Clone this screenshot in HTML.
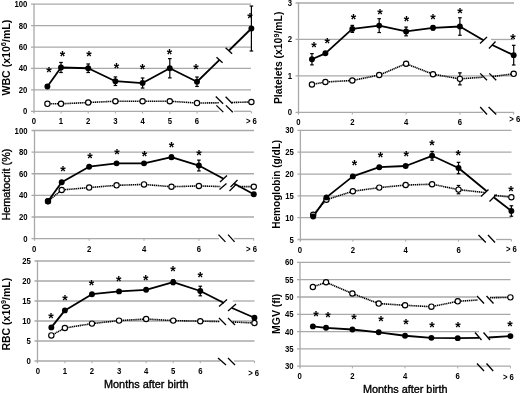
<!DOCTYPE html>
<html><head><meta charset="utf-8"><style>
html,body{margin:0;padding:0;background:#fff;width:520px;height:393px;overflow:hidden;font-family:"Liberation Sans", sans-serif;}
svg{display:block;filter:grayscale(100%);}
</style></head><body>
<svg width="520" height="393" viewBox="0 0 520 393" font-family='"Liberation Sans", sans-serif'>
<rect width="520" height="393" fill="#fff"/>
<g>
<line x1="31" y1="89.88" x2="251" y2="89.88" stroke="#a9a9a9" stroke-width="1.3" />
<line x1="31" y1="68.46" x2="251" y2="68.46" stroke="#a9a9a9" stroke-width="1.3" />
<line x1="31" y1="47.04" x2="251" y2="47.04" stroke="#a9a9a9" stroke-width="1.3" />
<line x1="31" y1="25.62" x2="251" y2="25.62" stroke="#a9a9a9" stroke-width="1.3" />
<line x1="31" y1="4.2" x2="251" y2="4.2" stroke="#a9a9a9" stroke-width="1.3" />
<line x1="31" y1="111.3" x2="219" y2="111.3" stroke="#a9a9a9" stroke-width="1.3" />
<line x1="234" y1="111.3" x2="251" y2="111.3" stroke="#a9a9a9" stroke-width="1.3" />
<line x1="34" y1="3.7" x2="34" y2="113.5" stroke="#a9a9a9" stroke-width="1.3" />
<line x1="61" y1="111.3" x2="61" y2="113.5" stroke="#a9a9a9" stroke-width="1" />
<line x1="88.2" y1="111.3" x2="88.2" y2="113.5" stroke="#a9a9a9" stroke-width="1" />
<line x1="115.4" y1="111.3" x2="115.4" y2="113.5" stroke="#a9a9a9" stroke-width="1" />
<line x1="142.6" y1="111.3" x2="142.6" y2="113.5" stroke="#a9a9a9" stroke-width="1" />
<line x1="169.8" y1="111.3" x2="169.8" y2="113.5" stroke="#a9a9a9" stroke-width="1" />
<line x1="197" y1="111.3" x2="197" y2="113.5" stroke="#a9a9a9" stroke-width="1" />
<line x1="251.4" y1="111.3" x2="251.4" y2="113.5" stroke="#a9a9a9" stroke-width="1" />
<text transform="translate(27.3,114.3) scale(0.9,1)" font-size="8.6" font-weight="bold" text-anchor="end" >0</text>
<text transform="translate(27.3,92.88) scale(0.9,1)" font-size="8.6" font-weight="bold" text-anchor="end" >20</text>
<text transform="translate(27.3,71.46) scale(0.9,1)" font-size="8.6" font-weight="bold" text-anchor="end" >40</text>
<text transform="translate(27.3,50.04) scale(0.9,1)" font-size="8.6" font-weight="bold" text-anchor="end" >60</text>
<text transform="translate(27.3,28.62) scale(0.9,1)" font-size="8.6" font-weight="bold" text-anchor="end" >80</text>
<text transform="translate(27.3,7.2) scale(0.9,1)" font-size="8.6" font-weight="bold" text-anchor="end" >100</text>
<text transform="translate(33.8,123.8) scale(0.9,1)" font-size="8.6" font-weight="bold" text-anchor="middle" >0</text>
<text transform="translate(61,123.8) scale(0.9,1)" font-size="8.6" font-weight="bold" text-anchor="middle" >1</text>
<text transform="translate(88.2,123.8) scale(0.9,1)" font-size="8.6" font-weight="bold" text-anchor="middle" >2</text>
<text transform="translate(115.4,123.8) scale(0.9,1)" font-size="8.6" font-weight="bold" text-anchor="middle" >3</text>
<text transform="translate(142.6,123.8) scale(0.9,1)" font-size="8.6" font-weight="bold" text-anchor="middle" >4</text>
<text transform="translate(169.8,123.8) scale(0.9,1)" font-size="8.6" font-weight="bold" text-anchor="middle" >5</text>
<text transform="translate(197,123.8) scale(0.9,1)" font-size="8.6" font-weight="bold" text-anchor="middle" >6</text>
<text transform="translate(251.4,123.8) scale(0.9,1)" font-size="8.6" font-weight="bold" text-anchor="middle" >&gt; 6</text>
<polyline points="47.4,103.8 61,103.8 88.2,102.52 115.4,101.23 142.6,101.23 169.8,101.23 197,103.05 219,102.8" fill="none" stroke="#000" stroke-width="1.6" stroke-dasharray="1.25 0.65"/>
<polyline points="232,102.5 251.4,101.98" fill="none" stroke="#000" stroke-width="1.6" stroke-dasharray="1.25 0.65"/>
<polyline points="47.4,86.45 61,67.5 88.2,68.25 115.4,81.2 142.6,83.03 169.8,68.25 197,81.74 219.5,59.8" fill="none" stroke="#000" stroke-width="1.8" stroke-linejoin="round"/>
<polyline points="229,50.5 251.4,28.51" fill="none" stroke="#000" stroke-width="1.8" stroke-linejoin="round"/>
<line x1="216.5" y1="57.3" x2="222.6" y2="62.8" stroke="#000" stroke-width="1.3" />
<line x1="225.6" y1="47.7" x2="232.1" y2="53.8" stroke="#000" stroke-width="1.3" />
<line x1="215.8" y1="96.5" x2="223.1" y2="103.8" stroke="#000" stroke-width="1.3" />
<line x1="225.6" y1="96.7" x2="232.3" y2="103.5" stroke="#000" stroke-width="1.3" />
<line x1="216.4" y1="105.4" x2="223.3" y2="112.1" stroke="#000" stroke-width="1.3" />
<line x1="225.9" y1="105.4" x2="232.8" y2="112.3" stroke="#000" stroke-width="1.3" />
<line x1="61" y1="62.46" x2="61" y2="72.53" stroke="#000" stroke-width="1.2" />
<line x1="59.2" y1="62.46" x2="62.8" y2="62.46" stroke="#000" stroke-width="1.2" />
<line x1="59.2" y1="72.53" x2="62.8" y2="72.53" stroke="#000" stroke-width="1.2" />
<line x1="88.2" y1="63.96" x2="88.2" y2="72.53" stroke="#000" stroke-width="1.2" />
<line x1="86.4" y1="63.96" x2="90" y2="63.96" stroke="#000" stroke-width="1.2" />
<line x1="86.4" y1="72.53" x2="90" y2="72.53" stroke="#000" stroke-width="1.2" />
<line x1="115.4" y1="76.92" x2="115.4" y2="85.49" stroke="#000" stroke-width="1.2" />
<line x1="113.6" y1="76.92" x2="117.2" y2="76.92" stroke="#000" stroke-width="1.2" />
<line x1="113.6" y1="85.49" x2="117.2" y2="85.49" stroke="#000" stroke-width="1.2" />
<line x1="142.6" y1="77.99" x2="142.6" y2="88.06" stroke="#000" stroke-width="1.2" />
<line x1="140.8" y1="77.99" x2="144.4" y2="77.99" stroke="#000" stroke-width="1.2" />
<line x1="140.8" y1="88.06" x2="144.4" y2="88.06" stroke="#000" stroke-width="1.2" />
<line x1="169.8" y1="58.61" x2="169.8" y2="77.88" stroke="#000" stroke-width="1.2" />
<line x1="168" y1="58.61" x2="171.6" y2="58.61" stroke="#000" stroke-width="1.2" />
<line x1="168" y1="77.88" x2="171.6" y2="77.88" stroke="#000" stroke-width="1.2" />
<line x1="197" y1="77.03" x2="197" y2="86.45" stroke="#000" stroke-width="1.2" />
<line x1="195.2" y1="77.03" x2="198.8" y2="77.03" stroke="#000" stroke-width="1.2" />
<line x1="195.2" y1="86.45" x2="198.8" y2="86.45" stroke="#000" stroke-width="1.2" />
<line x1="251.4" y1="6.02" x2="251.4" y2="51" stroke="#000" stroke-width="1.2" />
<line x1="249.6" y1="6.02" x2="253.2" y2="6.02" stroke="#000" stroke-width="1.2" />
<line x1="249.6" y1="51" x2="253.2" y2="51" stroke="#000" stroke-width="1.2" />
<circle cx="47.4" cy="103.8" r="2.65" fill="#fff" stroke="#000" stroke-width="1.15"/>
<circle cx="61" cy="103.8" r="2.65" fill="#fff" stroke="#000" stroke-width="1.15"/>
<circle cx="88.2" cy="102.52" r="2.65" fill="#fff" stroke="#000" stroke-width="1.15"/>
<circle cx="115.4" cy="101.23" r="2.65" fill="#fff" stroke="#000" stroke-width="1.15"/>
<circle cx="142.6" cy="101.23" r="2.65" fill="#fff" stroke="#000" stroke-width="1.15"/>
<circle cx="169.8" cy="101.23" r="2.65" fill="#fff" stroke="#000" stroke-width="1.15"/>
<circle cx="197" cy="103.05" r="2.65" fill="#fff" stroke="#000" stroke-width="1.15"/>
<circle cx="251.4" cy="101.98" r="2.65" fill="#fff" stroke="#000" stroke-width="1.15"/>
<circle cx="47.4" cy="86.45" r="2.95" fill="#000"/>
<circle cx="61" cy="67.5" r="2.95" fill="#000"/>
<circle cx="88.2" cy="68.25" r="2.95" fill="#000"/>
<circle cx="115.4" cy="81.2" r="2.95" fill="#000"/>
<circle cx="142.6" cy="83.03" r="2.95" fill="#000"/>
<circle cx="169.8" cy="68.25" r="2.95" fill="#000"/>
<circle cx="197" cy="81.74" r="2.95" fill="#000"/>
<circle cx="251.4" cy="28.51" r="2.95" fill="#000"/>
<text x="49" y="77.44" font-size="14" font-weight="bold" text-anchor="middle">*</text>
<text x="62.4" y="60.84" font-size="14" font-weight="bold" text-anchor="middle">*</text>
<text x="89" y="61.44" font-size="14" font-weight="bold" text-anchor="middle">*</text>
<text x="116.4" y="72.84" font-size="14" font-weight="bold" text-anchor="middle">*</text>
<text x="142.4" y="74.04" font-size="14" font-weight="bold" text-anchor="middle">*</text>
<text x="169.6" y="58.94" font-size="14" font-weight="bold" text-anchor="middle">*</text>
<text x="195.9" y="73.64" font-size="14" font-weight="bold" text-anchor="middle">*</text>
<text x="250" y="22.74" font-size="14" font-weight="bold" text-anchor="middle">*</text>
<text transform="translate(9.7,95.5) rotate(-90)" font-size="10.5" font-weight="bold" textLength="75.8" lengthAdjust="spacingAndGlyphs">WBC (x10<tspan font-size="70%" dy="-3.5">6</tspan><tspan dy="3.5">/mL)</tspan></text>
</g>
<g>
<line x1="295.5" y1="75.93" x2="514" y2="75.93" stroke="#a9a9a9" stroke-width="1.3" />
<line x1="295.5" y1="39.47" x2="483" y2="39.47" stroke="#a9a9a9" stroke-width="1.3" />
<line x1="491" y1="39.47" x2="514" y2="39.47" stroke="#a9a9a9" stroke-width="1.3" />
<line x1="295.5" y1="3" x2="514" y2="3" stroke="#a9a9a9" stroke-width="1.3" />
<line x1="295.5" y1="112.4" x2="483" y2="112.4" stroke="#a9a9a9" stroke-width="1.3" />
<line x1="494" y1="112.4" x2="514" y2="112.4" stroke="#a9a9a9" stroke-width="1.3" />
<line x1="298.5" y1="2.5" x2="298.5" y2="114.6" stroke="#a9a9a9" stroke-width="1.3" />
<line x1="352.3" y1="112.4" x2="352.3" y2="114.6" stroke="#a9a9a9" stroke-width="1" />
<line x1="406.1" y1="112.4" x2="406.1" y2="114.6" stroke="#a9a9a9" stroke-width="1" />
<line x1="459.9" y1="112.4" x2="459.9" y2="114.6" stroke="#a9a9a9" stroke-width="1" />
<line x1="513.7" y1="112.4" x2="513.7" y2="114.6" stroke="#a9a9a9" stroke-width="1" />
<text transform="translate(292,115.4) scale(0.9,1)" font-size="8.6" font-weight="bold" text-anchor="end" >0</text>
<text transform="translate(292,78.93) scale(0.9,1)" font-size="8.6" font-weight="bold" text-anchor="end" >1</text>
<text transform="translate(292,42.47) scale(0.9,1)" font-size="8.6" font-weight="bold" text-anchor="end" >2</text>
<text transform="translate(292,6) scale(0.9,1)" font-size="8.6" font-weight="bold" text-anchor="end" >3</text>
<text transform="translate(298.5,125.3) scale(0.9,1)" font-size="8.6" font-weight="bold" text-anchor="middle" >0</text>
<text transform="translate(352.3,125.3) scale(0.9,1)" font-size="8.6" font-weight="bold" text-anchor="middle" >2</text>
<text transform="translate(406.1,125.3) scale(0.9,1)" font-size="8.6" font-weight="bold" text-anchor="middle" >4</text>
<text transform="translate(459.9,125.3) scale(0.9,1)" font-size="8.6" font-weight="bold" text-anchor="middle" >6</text>
<text transform="translate(514.7,122.3) scale(0.9,1)" font-size="8.6" font-weight="bold" text-anchor="middle" >&gt; 6</text>
<polyline points="311.95,84.5 325.4,81.99 352.3,80.49 379.2,75.02 406.1,63.75 433,74.22 459.9,78.85 483,77.2" fill="none" stroke="#000" stroke-width="1.6" stroke-dasharray="1.25 0.65"/>
<polyline points="493,76.5 513.7,73.82" fill="none" stroke="#000" stroke-width="1.6" stroke-dasharray="1.25 0.65"/>
<polyline points="311.95,59.27 325.4,53.32 352.3,28.89 379.2,25.61 406.1,31.44 433,27.8 459.9,26.52 483.5,40.25" fill="none" stroke="#000" stroke-width="1.8" stroke-linejoin="round"/>
<polyline points="492.25,45 513.7,55.15" fill="none" stroke="#000" stroke-width="1.8" stroke-linejoin="round"/>
<line x1="480" y1="43.5" x2="487" y2="37" stroke="#000" stroke-width="1.3" />
<line x1="489" y1="48.5" x2="495.5" y2="41.5" stroke="#000" stroke-width="1.3" />
<line x1="480.2" y1="73.4" x2="487" y2="80.2" stroke="#000" stroke-width="1.3" />
<line x1="489.3" y1="73.4" x2="496.2" y2="80.2" stroke="#000" stroke-width="1.3" />
<line x1="480.2" y1="107" x2="487" y2="114.5" stroke="#000" stroke-width="1.3" />
<line x1="488.6" y1="107" x2="496.2" y2="114.5" stroke="#000" stroke-width="1.3" />
<line x1="406.1" y1="61.93" x2="406.1" y2="65.58" stroke="#000" stroke-width="1.2" />
<line x1="404.3" y1="61.93" x2="407.9" y2="61.93" stroke="#000" stroke-width="1.2" />
<line x1="404.3" y1="65.58" x2="407.9" y2="65.58" stroke="#000" stroke-width="1.2" />
<line x1="459.9" y1="72.83" x2="459.9" y2="84.87" stroke="#000" stroke-width="1.2" />
<line x1="458.1" y1="72.83" x2="461.7" y2="72.83" stroke="#000" stroke-width="1.2" />
<line x1="458.1" y1="84.87" x2="461.7" y2="84.87" stroke="#000" stroke-width="1.2" />
<line x1="513.7" y1="71.99" x2="513.7" y2="75.64" stroke="#000" stroke-width="1.2" />
<line x1="511.9" y1="71.99" x2="515.5" y2="71.99" stroke="#000" stroke-width="1.2" />
<line x1="511.9" y1="75.64" x2="515.5" y2="75.64" stroke="#000" stroke-width="1.2" />
<line x1="311.95" y1="53.65" x2="311.95" y2="64.88" stroke="#000" stroke-width="1.2" />
<line x1="310.15" y1="53.65" x2="313.75" y2="53.65" stroke="#000" stroke-width="1.2" />
<line x1="310.15" y1="64.88" x2="313.75" y2="64.88" stroke="#000" stroke-width="1.2" />
<line x1="352.3" y1="25.39" x2="352.3" y2="32.39" stroke="#000" stroke-width="1.2" />
<line x1="350.5" y1="25.39" x2="354.1" y2="25.39" stroke="#000" stroke-width="1.2" />
<line x1="350.5" y1="32.39" x2="354.1" y2="32.39" stroke="#000" stroke-width="1.2" />
<line x1="379.2" y1="18.68" x2="379.2" y2="32.54" stroke="#000" stroke-width="1.2" />
<line x1="377.4" y1="18.68" x2="381" y2="18.68" stroke="#000" stroke-width="1.2" />
<line x1="377.4" y1="32.54" x2="381" y2="32.54" stroke="#000" stroke-width="1.2" />
<line x1="406.1" y1="27.07" x2="406.1" y2="35.82" stroke="#000" stroke-width="1.2" />
<line x1="404.3" y1="27.07" x2="407.9" y2="27.07" stroke="#000" stroke-width="1.2" />
<line x1="404.3" y1="35.82" x2="407.9" y2="35.82" stroke="#000" stroke-width="1.2" />
<line x1="433" y1="25.61" x2="433" y2="29.99" stroke="#000" stroke-width="1.2" />
<line x1="431.2" y1="25.61" x2="434.8" y2="25.61" stroke="#000" stroke-width="1.2" />
<line x1="431.2" y1="29.99" x2="434.8" y2="29.99" stroke="#000" stroke-width="1.2" />
<line x1="459.9" y1="17.77" x2="459.9" y2="35.27" stroke="#000" stroke-width="1.2" />
<line x1="458.1" y1="17.77" x2="461.7" y2="17.77" stroke="#000" stroke-width="1.2" />
<line x1="458.1" y1="35.27" x2="461.7" y2="35.27" stroke="#000" stroke-width="1.2" />
<line x1="513.7" y1="45.3" x2="513.7" y2="64.99" stroke="#000" stroke-width="1.2" />
<line x1="511.9" y1="45.3" x2="515.5" y2="45.3" stroke="#000" stroke-width="1.2" />
<line x1="511.9" y1="64.99" x2="515.5" y2="64.99" stroke="#000" stroke-width="1.2" />
<circle cx="311.95" cy="84.5" r="2.65" fill="#fff" stroke="#000" stroke-width="1.15"/>
<circle cx="325.4" cy="81.99" r="2.65" fill="#fff" stroke="#000" stroke-width="1.15"/>
<circle cx="352.3" cy="80.49" r="2.65" fill="#fff" stroke="#000" stroke-width="1.15"/>
<circle cx="379.2" cy="75.02" r="2.65" fill="#fff" stroke="#000" stroke-width="1.15"/>
<circle cx="406.1" cy="63.75" r="2.65" fill="#fff" stroke="#000" stroke-width="1.15"/>
<circle cx="433" cy="74.22" r="2.65" fill="#fff" stroke="#000" stroke-width="1.15"/>
<circle cx="459.9" cy="78.85" r="2.65" fill="#fff" stroke="#000" stroke-width="1.15"/>
<circle cx="513.7" cy="73.82" r="2.65" fill="#fff" stroke="#000" stroke-width="1.15"/>
<circle cx="311.95" cy="59.27" r="2.95" fill="#000"/>
<circle cx="325.4" cy="53.32" r="2.95" fill="#000"/>
<circle cx="352.3" cy="28.89" r="2.95" fill="#000"/>
<circle cx="379.2" cy="25.61" r="2.95" fill="#000"/>
<circle cx="406.1" cy="31.44" r="2.95" fill="#000"/>
<circle cx="433" cy="27.8" r="2.95" fill="#000"/>
<circle cx="459.9" cy="26.52" r="2.95" fill="#000"/>
<circle cx="513.7" cy="55.15" r="2.95" fill="#000"/>
<text x="314" y="52.14" font-size="14" font-weight="bold" text-anchor="middle">*</text>
<text x="327.2" y="47.94" font-size="14" font-weight="bold" text-anchor="middle">*</text>
<text x="353.5" y="24.44" font-size="14" font-weight="bold" text-anchor="middle">*</text>
<text x="380" y="18.69" font-size="14" font-weight="bold" text-anchor="middle">*</text>
<text x="406.5" y="26.19" font-size="14" font-weight="bold" text-anchor="middle">*</text>
<text x="433" y="23.69" font-size="14" font-weight="bold" text-anchor="middle">*</text>
<text x="460" y="17.94" font-size="14" font-weight="bold" text-anchor="middle">*</text>
<text x="513" y="43.94" font-size="14" font-weight="bold" text-anchor="middle">*</text>
<text transform="translate(282.4,104.1) rotate(-90)" font-size="10.5" font-weight="bold" textLength="92.5" lengthAdjust="spacingAndGlyphs">Platelets (x10<tspan font-size="70%" dy="-3.5">9</tspan><tspan dy="3.5">/mL)</tspan></text>
</g>
<g>
<line x1="31.5" y1="216.98" x2="254" y2="216.98" stroke="#a9a9a9" stroke-width="1.3" />
<line x1="31.5" y1="195.36" x2="254" y2="195.36" stroke="#a9a9a9" stroke-width="1.3" />
<line x1="31.5" y1="173.74" x2="254" y2="173.74" stroke="#a9a9a9" stroke-width="1.3" />
<line x1="31.5" y1="152.12" x2="254" y2="152.12" stroke="#a9a9a9" stroke-width="1.3" />
<line x1="31.5" y1="130.5" x2="254" y2="130.5" stroke="#a9a9a9" stroke-width="1.3" />
<line x1="31.5" y1="238.6" x2="219" y2="238.6" stroke="#a9a9a9" stroke-width="1.3" />
<line x1="234" y1="238.6" x2="254" y2="238.6" stroke="#a9a9a9" stroke-width="1.3" />
<line x1="34.5" y1="130" x2="34.5" y2="240.8" stroke="#a9a9a9" stroke-width="1.3" />
<line x1="89.14" y1="238.6" x2="89.14" y2="240.8" stroke="#a9a9a9" stroke-width="1" />
<line x1="144.02" y1="238.6" x2="144.02" y2="240.8" stroke="#a9a9a9" stroke-width="1" />
<line x1="198.9" y1="238.6" x2="198.9" y2="240.8" stroke="#a9a9a9" stroke-width="1" />
<line x1="253.78" y1="238.6" x2="253.78" y2="240.8" stroke="#a9a9a9" stroke-width="1" />
<text transform="translate(27.5,241.6) scale(0.9,1)" font-size="8.6" font-weight="bold" text-anchor="end" >0</text>
<text transform="translate(27.5,219.98) scale(0.9,1)" font-size="8.6" font-weight="bold" text-anchor="end" >20</text>
<text transform="translate(27.5,198.36) scale(0.9,1)" font-size="8.6" font-weight="bold" text-anchor="end" >40</text>
<text transform="translate(27.5,176.74) scale(0.9,1)" font-size="8.6" font-weight="bold" text-anchor="end" >60</text>
<text transform="translate(27.5,155.12) scale(0.9,1)" font-size="8.6" font-weight="bold" text-anchor="end" >80</text>
<text transform="translate(27.5,133.5) scale(0.9,1)" font-size="8.6" font-weight="bold" text-anchor="end" >100</text>
<text transform="translate(34.26,251.6) scale(0.9,1)" font-size="8.6" font-weight="bold" text-anchor="middle" >0</text>
<text transform="translate(89.14,251.6) scale(0.9,1)" font-size="8.6" font-weight="bold" text-anchor="middle" >2</text>
<text transform="translate(144.02,251.6) scale(0.9,1)" font-size="8.6" font-weight="bold" text-anchor="middle" >4</text>
<text transform="translate(198.9,251.6) scale(0.9,1)" font-size="8.6" font-weight="bold" text-anchor="middle" >6</text>
<text transform="translate(251.48,251.9) scale(0.9,1)" font-size="8.6" font-weight="bold" text-anchor="middle" >&gt; 6</text>
<polyline points="47.98,201.31 61.7,189.95 89.14,187.58 116.58,185.31 144.02,184.44 171.46,186.71 198.9,185.96 220.5,186.5" fill="none" stroke="#000" stroke-width="1.6" stroke-dasharray="1.25 0.65"/>
<polyline points="238,186.5 253.78,186.71" fill="none" stroke="#000" stroke-width="1.6" stroke-dasharray="1.25 0.65"/>
<polyline points="47.98,201.2 61.7,182.28 89.14,166.71 116.58,163.36 144.02,163.36 171.46,157.2 198.9,165.52 223.5,178.8" fill="none" stroke="#000" stroke-width="1.8" stroke-linejoin="round"/>
<polyline points="234,183.5 253.78,194.28" fill="none" stroke="#000" stroke-width="1.8" stroke-linejoin="round"/>
<line x1="220" y1="182" x2="227" y2="175.5" stroke="#000" stroke-width="1.3" />
<line x1="230.5" y1="187" x2="237.5" y2="180" stroke="#000" stroke-width="1.3" />
<line x1="219.5" y1="189.5" x2="226.5" y2="183.5" stroke="#000" stroke-width="1.3" />
<line x1="229.5" y1="191" x2="236" y2="184.5" stroke="#000" stroke-width="1.3" />
<line x1="218.5" y1="234.6" x2="225.4" y2="241.9" stroke="#000" stroke-width="1.3" />
<line x1="228.1" y1="234.6" x2="234.6" y2="241.9" stroke="#000" stroke-width="1.3" />
<line x1="171.46" y1="155.04" x2="171.46" y2="159.36" stroke="#000" stroke-width="1.2" />
<line x1="169.66" y1="155.04" x2="173.26" y2="155.04" stroke="#000" stroke-width="1.2" />
<line x1="169.66" y1="159.36" x2="173.26" y2="159.36" stroke="#000" stroke-width="1.2" />
<line x1="198.9" y1="160.12" x2="198.9" y2="170.93" stroke="#000" stroke-width="1.2" />
<line x1="197.1" y1="160.12" x2="200.7" y2="160.12" stroke="#000" stroke-width="1.2" />
<line x1="197.1" y1="170.93" x2="200.7" y2="170.93" stroke="#000" stroke-width="1.2" />
<circle cx="47.98" cy="201.31" r="2.65" fill="#fff" stroke="#000" stroke-width="1.15"/>
<circle cx="61.7" cy="189.95" r="2.65" fill="#fff" stroke="#000" stroke-width="1.15"/>
<circle cx="89.14" cy="187.58" r="2.65" fill="#fff" stroke="#000" stroke-width="1.15"/>
<circle cx="116.58" cy="185.31" r="2.65" fill="#fff" stroke="#000" stroke-width="1.15"/>
<circle cx="144.02" cy="184.44" r="2.65" fill="#fff" stroke="#000" stroke-width="1.15"/>
<circle cx="171.46" cy="186.71" r="2.65" fill="#fff" stroke="#000" stroke-width="1.15"/>
<circle cx="198.9" cy="185.96" r="2.65" fill="#fff" stroke="#000" stroke-width="1.15"/>
<circle cx="253.78" cy="186.71" r="2.65" fill="#fff" stroke="#000" stroke-width="1.15"/>
<circle cx="47.98" cy="201.2" r="2.95" fill="#000"/>
<circle cx="61.7" cy="182.28" r="2.95" fill="#000"/>
<circle cx="89.14" cy="166.71" r="2.95" fill="#000"/>
<circle cx="116.58" cy="163.36" r="2.95" fill="#000"/>
<circle cx="144.02" cy="163.36" r="2.95" fill="#000"/>
<circle cx="171.46" cy="157.2" r="2.95" fill="#000"/>
<circle cx="198.9" cy="165.52" r="2.95" fill="#000"/>
<circle cx="253.78" cy="194.28" r="2.95" fill="#000"/>
<text x="63" y="176.04" font-size="14" font-weight="bold" text-anchor="middle">*</text>
<text x="90" y="162.84" font-size="14" font-weight="bold" text-anchor="middle">*</text>
<text x="117" y="159.24" font-size="14" font-weight="bold" text-anchor="middle">*</text>
<text x="144.5" y="160.64" font-size="14" font-weight="bold" text-anchor="middle">*</text>
<text x="171.4" y="152.34" font-size="14" font-weight="bold" text-anchor="middle">*</text>
<text x="199" y="159.94" font-size="14" font-weight="bold" text-anchor="middle">*</text>
<text transform="translate(9.7,220.5) rotate(-90)" font-size="10.7" font-weight="normal" textLength="71.8" lengthAdjust="spacingAndGlyphs" stroke="#000" stroke-width="0.35">Hematocrit (%)</text>
</g>
<g>
<line x1="297.5" y1="217.68" x2="511.5" y2="217.68" stroke="#a9a9a9" stroke-width="1.3" />
<line x1="297.5" y1="195.86" x2="482" y2="195.86" stroke="#a9a9a9" stroke-width="1.3" />
<line x1="494" y1="195.86" x2="511.5" y2="195.86" stroke="#a9a9a9" stroke-width="1.3" />
<line x1="297.5" y1="174.04" x2="511.5" y2="174.04" stroke="#a9a9a9" stroke-width="1.3" />
<line x1="297.5" y1="152.22" x2="511.5" y2="152.22" stroke="#a9a9a9" stroke-width="1.3" />
<line x1="297.5" y1="130.4" x2="511.5" y2="130.4" stroke="#a9a9a9" stroke-width="1.3" />
<line x1="297.5" y1="239.5" x2="484" y2="239.5" stroke="#a9a9a9" stroke-width="1.3" />
<line x1="496" y1="239.5" x2="511.5" y2="239.5" stroke="#a9a9a9" stroke-width="1.3" />
<line x1="300.4" y1="129.9" x2="300.4" y2="241.7" stroke="#a9a9a9" stroke-width="1.3" />
<line x1="352.84" y1="239.5" x2="352.84" y2="241.7" stroke="#a9a9a9" stroke-width="1" />
<line x1="405.68" y1="239.5" x2="405.68" y2="241.7" stroke="#a9a9a9" stroke-width="1" />
<line x1="458.52" y1="239.5" x2="458.52" y2="241.7" stroke="#a9a9a9" stroke-width="1" />
<line x1="511.36" y1="239.5" x2="511.36" y2="241.7" stroke="#a9a9a9" stroke-width="1" />
<text transform="translate(293.8,242.5) scale(0.9,1)" font-size="8.6" font-weight="bold" text-anchor="end" >5</text>
<text transform="translate(293.8,220.68) scale(0.9,1)" font-size="8.6" font-weight="bold" text-anchor="end" >10</text>
<text transform="translate(293.8,198.86) scale(0.9,1)" font-size="8.6" font-weight="bold" text-anchor="end" >15</text>
<text transform="translate(293.8,177.04) scale(0.9,1)" font-size="8.6" font-weight="bold" text-anchor="end" >20</text>
<text transform="translate(293.8,155.22) scale(0.9,1)" font-size="8.6" font-weight="bold" text-anchor="end" >25</text>
<text transform="translate(293.8,133.4) scale(0.9,1)" font-size="8.6" font-weight="bold" text-anchor="end" >30</text>
<text transform="translate(300,252.5) scale(0.9,1)" font-size="8.6" font-weight="bold" text-anchor="middle" >0</text>
<text transform="translate(352.84,252.5) scale(0.9,1)" font-size="8.6" font-weight="bold" text-anchor="middle" >2</text>
<text transform="translate(405.68,252.5) scale(0.9,1)" font-size="8.6" font-weight="bold" text-anchor="middle" >4</text>
<text transform="translate(458.52,252.5) scale(0.9,1)" font-size="8.6" font-weight="bold" text-anchor="middle" >6</text>
<text transform="translate(511.36,251.9) scale(0.9,1)" font-size="8.6" font-weight="bold" text-anchor="middle" >&gt; 6</text>
<polyline points="313.21,214.8 326.42,199.7 352.84,191.28 379.26,187.61 405.68,185.04 432.1,184.21 458.52,189.62 485,192.6" fill="none" stroke="#000" stroke-width="1.6" stroke-dasharray="1.25 0.65"/>
<polyline points="494,195.3 511.36,197.21" fill="none" stroke="#000" stroke-width="1.6" stroke-dasharray="1.25 0.65"/>
<polyline points="313.21,216.5 326.42,197.39 352.84,176.4 379.26,167.19 405.68,166.01 432.1,155.8 458.52,168.02 486.5,191" fill="none" stroke="#000" stroke-width="1.8" stroke-linejoin="round"/>
<polyline points="494,197.5 511.36,211" fill="none" stroke="#000" stroke-width="1.8" stroke-linejoin="round"/>
<line x1="481" y1="196.5" x2="488.5" y2="189.5" stroke="#000" stroke-width="1.3" />
<line x1="489.5" y1="201.5" x2="496.5" y2="194.5" stroke="#000" stroke-width="1.3" />
<line x1="478.5" y1="235" x2="485.8" y2="242.5" stroke="#000" stroke-width="1.3" />
<line x1="488" y1="235" x2="495" y2="242.5" stroke="#000" stroke-width="1.3" />
<line x1="458.52" y1="185.47" x2="458.52" y2="193.77" stroke="#000" stroke-width="1.2" />
<line x1="456.72" y1="185.47" x2="460.32" y2="185.47" stroke="#000" stroke-width="1.2" />
<line x1="456.72" y1="193.77" x2="460.32" y2="193.77" stroke="#000" stroke-width="1.2" />
<line x1="432.1" y1="151.43" x2="432.1" y2="160.16" stroke="#000" stroke-width="1.2" />
<line x1="430.3" y1="151.43" x2="433.9" y2="151.43" stroke="#000" stroke-width="1.2" />
<line x1="430.3" y1="160.16" x2="433.9" y2="160.16" stroke="#000" stroke-width="1.2" />
<line x1="458.52" y1="162.34" x2="458.52" y2="173.69" stroke="#000" stroke-width="1.2" />
<line x1="456.72" y1="162.34" x2="460.32" y2="162.34" stroke="#000" stroke-width="1.2" />
<line x1="456.72" y1="173.69" x2="460.32" y2="173.69" stroke="#000" stroke-width="1.2" />
<line x1="511.36" y1="205.77" x2="511.36" y2="216.24" stroke="#000" stroke-width="1.2" />
<line x1="509.56" y1="205.77" x2="513.16" y2="205.77" stroke="#000" stroke-width="1.2" />
<line x1="509.56" y1="216.24" x2="513.16" y2="216.24" stroke="#000" stroke-width="1.2" />
<circle cx="313.21" cy="214.8" r="2.65" fill="#fff" stroke="#000" stroke-width="1.15"/>
<circle cx="326.42" cy="199.7" r="2.65" fill="#fff" stroke="#000" stroke-width="1.15"/>
<circle cx="352.84" cy="191.28" r="2.65" fill="#fff" stroke="#000" stroke-width="1.15"/>
<circle cx="379.26" cy="187.61" r="2.65" fill="#fff" stroke="#000" stroke-width="1.15"/>
<circle cx="405.68" cy="185.04" r="2.65" fill="#fff" stroke="#000" stroke-width="1.15"/>
<circle cx="432.1" cy="184.21" r="2.65" fill="#fff" stroke="#000" stroke-width="1.15"/>
<circle cx="458.52" cy="189.62" r="2.65" fill="#fff" stroke="#000" stroke-width="1.15"/>
<circle cx="511.36" cy="197.21" r="2.65" fill="#fff" stroke="#000" stroke-width="1.15"/>
<circle cx="313.21" cy="216.5" r="2.95" fill="#000"/>
<circle cx="326.42" cy="197.39" r="2.95" fill="#000"/>
<circle cx="352.84" cy="176.4" r="2.95" fill="#000"/>
<circle cx="379.26" cy="167.19" r="2.95" fill="#000"/>
<circle cx="405.68" cy="166.01" r="2.95" fill="#000"/>
<circle cx="432.1" cy="155.8" r="2.95" fill="#000"/>
<circle cx="458.52" cy="168.02" r="2.95" fill="#000"/>
<circle cx="511.36" cy="211" r="2.95" fill="#000"/>
<text x="354.5" y="169.84" font-size="14" font-weight="bold" text-anchor="middle">*</text>
<text x="380.5" y="161.74" font-size="14" font-weight="bold" text-anchor="middle">*</text>
<text x="406.3" y="160.74" font-size="14" font-weight="bold" text-anchor="middle">*</text>
<text x="432" y="149.94" font-size="14" font-weight="bold" text-anchor="middle">*</text>
<text x="458.3" y="159.74" font-size="14" font-weight="bold" text-anchor="middle">*</text>
<text x="511" y="195.74" font-size="14" font-weight="bold" text-anchor="middle">*</text>
<text transform="translate(280,228.8) rotate(-90)" font-size="10" font-weight="bold" textLength="89" lengthAdjust="spacingAndGlyphs">Hemoglobin (g/dL)</text>
</g>
<g>
<line x1="34.5" y1="341" x2="254.5" y2="341" stroke="#a9a9a9" stroke-width="1.3" />
<line x1="34.5" y1="321" x2="219.2" y2="321" stroke="#a9a9a9" stroke-width="1.3" />
<line x1="231.8" y1="321" x2="254.5" y2="321" stroke="#a9a9a9" stroke-width="1.3" />
<line x1="34.5" y1="301" x2="222.6" y2="301" stroke="#a9a9a9" stroke-width="1.3" />
<line x1="232.7" y1="301" x2="254.5" y2="301" stroke="#a9a9a9" stroke-width="1.3" />
<line x1="34.5" y1="281" x2="254.5" y2="281" stroke="#a9a9a9" stroke-width="1.3" />
<line x1="34.5" y1="261" x2="254.5" y2="261" stroke="#a9a9a9" stroke-width="1.3" />
<line x1="34.5" y1="361" x2="220" y2="361" stroke="#a9a9a9" stroke-width="1.3" />
<line x1="234" y1="361" x2="254.5" y2="361" stroke="#a9a9a9" stroke-width="1.3" />
<line x1="37.5" y1="260.5" x2="37.5" y2="363.2" stroke="#a9a9a9" stroke-width="1.3" />
<line x1="64.88" y1="361" x2="64.88" y2="363.2" stroke="#a9a9a9" stroke-width="1" />
<line x1="91.96" y1="361" x2="91.96" y2="363.2" stroke="#a9a9a9" stroke-width="1" />
<line x1="119.04" y1="361" x2="119.04" y2="363.2" stroke="#a9a9a9" stroke-width="1" />
<line x1="146.12" y1="361" x2="146.12" y2="363.2" stroke="#a9a9a9" stroke-width="1" />
<line x1="173.2" y1="361" x2="173.2" y2="363.2" stroke="#a9a9a9" stroke-width="1" />
<line x1="200.28" y1="361" x2="200.28" y2="363.2" stroke="#a9a9a9" stroke-width="1" />
<line x1="254.44" y1="361" x2="254.44" y2="363.2" stroke="#a9a9a9" stroke-width="1" />
<text transform="translate(30.8,364) scale(0.9,1)" font-size="8.6" font-weight="bold" text-anchor="end" >0</text>
<text transform="translate(30.8,344) scale(0.9,1)" font-size="8.6" font-weight="bold" text-anchor="end" >5</text>
<text transform="translate(30.8,324) scale(0.9,1)" font-size="8.6" font-weight="bold" text-anchor="end" >10</text>
<text transform="translate(30.8,304) scale(0.9,1)" font-size="8.6" font-weight="bold" text-anchor="end" >15</text>
<text transform="translate(30.8,284) scale(0.9,1)" font-size="8.6" font-weight="bold" text-anchor="end" >20</text>
<text transform="translate(30.8,264) scale(0.9,1)" font-size="8.6" font-weight="bold" text-anchor="end" >25</text>
<text transform="translate(37.8,374) scale(0.9,1)" font-size="8.6" font-weight="bold" text-anchor="middle" >0</text>
<text transform="translate(64.88,374) scale(0.9,1)" font-size="8.6" font-weight="bold" text-anchor="middle" >1</text>
<text transform="translate(91.96,374) scale(0.9,1)" font-size="8.6" font-weight="bold" text-anchor="middle" >2</text>
<text transform="translate(119.04,374) scale(0.9,1)" font-size="8.6" font-weight="bold" text-anchor="middle" >3</text>
<text transform="translate(146.12,374) scale(0.9,1)" font-size="8.6" font-weight="bold" text-anchor="middle" >4</text>
<text transform="translate(173.2,374) scale(0.9,1)" font-size="8.6" font-weight="bold" text-anchor="middle" >5</text>
<text transform="translate(200.28,374) scale(0.9,1)" font-size="8.6" font-weight="bold" text-anchor="middle" >6</text>
<text transform="translate(253.64,375.8) scale(0.9,1)" font-size="8.6" font-weight="bold" text-anchor="middle" >&gt; 6</text>
<polyline points="51.34,335.4 64.88,328 91.96,323.6 119.04,320.6 146.12,319 173.2,320.6 200.28,321.2 220,321.5" fill="none" stroke="#000" stroke-width="1.6" stroke-dasharray="1.25 0.65"/>
<polyline points="233,322 254.44,323" fill="none" stroke="#000" stroke-width="1.6" stroke-dasharray="1.25 0.65"/>
<polyline points="51.34,327.4 64.88,310.4 91.96,294.2 119.04,291.4 146.12,289.8 173.2,282.2 200.28,291 224,303" fill="none" stroke="#000" stroke-width="1.8" stroke-linejoin="round"/>
<polyline points="232,308 254.44,317.8" fill="none" stroke="#000" stroke-width="1.8" stroke-linejoin="round"/>
<line x1="219" y1="306.5" x2="227" y2="299.5" stroke="#000" stroke-width="1.3" />
<line x1="228" y1="311" x2="236" y2="304" stroke="#000" stroke-width="1.3" />
<line x1="219" y1="318" x2="226" y2="325" stroke="#000" stroke-width="1.3" />
<line x1="228" y1="318" x2="235" y2="325" stroke="#000" stroke-width="1.3" />
<line x1="218" y1="358" x2="226" y2="365" stroke="#000" stroke-width="1.3" />
<line x1="228" y1="358" x2="235" y2="365" stroke="#000" stroke-width="1.3" />
<line x1="173.2" y1="279.8" x2="173.2" y2="284.6" stroke="#000" stroke-width="1.2" />
<line x1="171.4" y1="279.8" x2="175" y2="279.8" stroke="#000" stroke-width="1.2" />
<line x1="171.4" y1="284.6" x2="175" y2="284.6" stroke="#000" stroke-width="1.2" />
<line x1="200.28" y1="286.2" x2="200.28" y2="295.8" stroke="#000" stroke-width="1.2" />
<line x1="198.48" y1="286.2" x2="202.08" y2="286.2" stroke="#000" stroke-width="1.2" />
<line x1="198.48" y1="295.8" x2="202.08" y2="295.8" stroke="#000" stroke-width="1.2" />
<circle cx="51.34" cy="335.4" r="2.65" fill="#fff" stroke="#000" stroke-width="1.15"/>
<circle cx="64.88" cy="328" r="2.65" fill="#fff" stroke="#000" stroke-width="1.15"/>
<circle cx="91.96" cy="323.6" r="2.65" fill="#fff" stroke="#000" stroke-width="1.15"/>
<circle cx="119.04" cy="320.6" r="2.65" fill="#fff" stroke="#000" stroke-width="1.15"/>
<circle cx="146.12" cy="319" r="2.65" fill="#fff" stroke="#000" stroke-width="1.15"/>
<circle cx="173.2" cy="320.6" r="2.65" fill="#fff" stroke="#000" stroke-width="1.15"/>
<circle cx="200.28" cy="321.2" r="2.65" fill="#fff" stroke="#000" stroke-width="1.15"/>
<circle cx="254.44" cy="323" r="2.65" fill="#fff" stroke="#000" stroke-width="1.15"/>
<circle cx="51.34" cy="327.4" r="2.95" fill="#000"/>
<circle cx="64.88" cy="310.4" r="2.95" fill="#000"/>
<circle cx="91.96" cy="294.2" r="2.95" fill="#000"/>
<circle cx="119.04" cy="291.4" r="2.95" fill="#000"/>
<circle cx="146.12" cy="289.8" r="2.95" fill="#000"/>
<circle cx="173.2" cy="282.2" r="2.95" fill="#000"/>
<circle cx="200.28" cy="291" r="2.95" fill="#000"/>
<circle cx="254.44" cy="317.8" r="2.95" fill="#000"/>
<text x="51" y="322.74" font-size="14" font-weight="bold" text-anchor="middle">*</text>
<text x="65" y="305.34" font-size="14" font-weight="bold" text-anchor="middle">*</text>
<text x="91.5" y="289.74" font-size="14" font-weight="bold" text-anchor="middle">*</text>
<text x="118.8" y="286.24" font-size="14" font-weight="bold" text-anchor="middle">*</text>
<text x="145.8" y="284.64" font-size="14" font-weight="bold" text-anchor="middle">*</text>
<text x="173" y="276.04" font-size="14" font-weight="bold" text-anchor="middle">*</text>
<text x="200.3" y="282.34" font-size="14" font-weight="bold" text-anchor="middle">*</text>
<text transform="translate(9.5,350.5) rotate(-90)" font-size="10.5" font-weight="bold" textLength="72.7" lengthAdjust="spacingAndGlyphs">RBC (x10<tspan font-size="70%" dy="-3.5">9</tspan><tspan dy="3.5">/mL)</tspan></text>
</g>
<g>
<line x1="297" y1="348.9" x2="510.5" y2="348.9" stroke="#a9a9a9" stroke-width="1.3" />
<line x1="297" y1="331.6" x2="479" y2="331.6" stroke="#a9a9a9" stroke-width="1.3" />
<line x1="489" y1="331.6" x2="510.5" y2="331.6" stroke="#a9a9a9" stroke-width="1.3" />
<line x1="297" y1="314.3" x2="510.5" y2="314.3" stroke="#a9a9a9" stroke-width="1.3" />
<line x1="297" y1="297" x2="476.5" y2="297" stroke="#a9a9a9" stroke-width="1.3" />
<line x1="490" y1="297" x2="510.5" y2="297" stroke="#a9a9a9" stroke-width="1.3" />
<line x1="297" y1="279.7" x2="510.5" y2="279.7" stroke="#a9a9a9" stroke-width="1.3" />
<line x1="297" y1="262.4" x2="510.5" y2="262.4" stroke="#a9a9a9" stroke-width="1.3" />
<line x1="297" y1="366.2" x2="510.5" y2="366.2" stroke="#a9a9a9" stroke-width="1.3" />
<line x1="300" y1="261.9" x2="300" y2="368.4" stroke="#a9a9a9" stroke-width="1.3" />
<line x1="352.38" y1="366.2" x2="352.38" y2="368.4" stroke="#a9a9a9" stroke-width="1" />
<line x1="405.06" y1="366.2" x2="405.06" y2="368.4" stroke="#a9a9a9" stroke-width="1" />
<line x1="457.74" y1="366.2" x2="457.74" y2="368.4" stroke="#a9a9a9" stroke-width="1" />
<line x1="510.42" y1="366.2" x2="510.42" y2="368.4" stroke="#a9a9a9" stroke-width="1" />
<text transform="translate(293.5,369.2) scale(0.9,1)" font-size="8.6" font-weight="bold" text-anchor="end" >30</text>
<text transform="translate(293.5,351.9) scale(0.9,1)" font-size="8.6" font-weight="bold" text-anchor="end" >35</text>
<text transform="translate(293.5,334.6) scale(0.9,1)" font-size="8.6" font-weight="bold" text-anchor="end" >40</text>
<text transform="translate(293.5,317.3) scale(0.9,1)" font-size="8.6" font-weight="bold" text-anchor="end" >45</text>
<text transform="translate(293.5,300) scale(0.9,1)" font-size="8.6" font-weight="bold" text-anchor="end" >50</text>
<text transform="translate(293.5,282.7) scale(0.9,1)" font-size="8.6" font-weight="bold" text-anchor="end" >55</text>
<text transform="translate(293.5,265.4) scale(0.9,1)" font-size="8.6" font-weight="bold" text-anchor="end" >60</text>
<text transform="translate(299.7,379.2) scale(0.9,1)" font-size="8.6" font-weight="bold" text-anchor="middle" >0</text>
<text transform="translate(352.38,379.2) scale(0.9,1)" font-size="8.6" font-weight="bold" text-anchor="middle" >2</text>
<text transform="translate(405.06,379.2) scale(0.9,1)" font-size="8.6" font-weight="bold" text-anchor="middle" >4</text>
<text transform="translate(457.74,379.2) scale(0.9,1)" font-size="8.6" font-weight="bold" text-anchor="middle" >6</text>
<text transform="translate(508.42,380.2) scale(0.9,1)" font-size="8.6" font-weight="bold" text-anchor="middle" >&gt; 6</text>
<polyline points="312.87,286.97 326.04,282.29 352.38,293.54 378.72,303.57 405.06,305.3 431.4,306.69 457.74,301.32 477.5,300" fill="none" stroke="#000" stroke-width="1.6" stroke-dasharray="1.25 0.65"/>
<polyline points="490,297.8 510.42,297.35" fill="none" stroke="#000" stroke-width="1.6" stroke-dasharray="1.25 0.65"/>
<polyline points="312.87,326.41 326.04,327.79 352.38,329.52 378.72,332.29 405.06,335.75 431.4,337.83 457.74,338.17 479,337.8" fill="none" stroke="#000" stroke-width="1.8" stroke-linejoin="round"/>
<polyline points="488.5,337.5 510.42,336.1" fill="none" stroke="#000" stroke-width="1.8" stroke-linejoin="round"/>
<line x1="475" y1="332.5" x2="481.5" y2="340" stroke="#000" stroke-width="1.3" />
<line x1="483.5" y1="332.5" x2="490" y2="340" stroke="#000" stroke-width="1.3" />
<line x1="477" y1="296" x2="484" y2="303.5" stroke="#000" stroke-width="1.3" />
<line x1="486.5" y1="296" x2="493.5" y2="303.5" stroke="#000" stroke-width="1.3" />
<line x1="477" y1="363.5" x2="484" y2="371" stroke="#000" stroke-width="1.3" />
<line x1="486.5" y1="363.5" x2="493.2" y2="371" stroke="#000" stroke-width="1.3" />
<line x1="312.87" y1="285.24" x2="312.87" y2="288.7" stroke="#000" stroke-width="1.2" />
<line x1="311.07" y1="285.24" x2="314.67" y2="285.24" stroke="#000" stroke-width="1.2" />
<line x1="311.07" y1="288.7" x2="314.67" y2="288.7" stroke="#000" stroke-width="1.2" />
<line x1="457.74" y1="299.25" x2="457.74" y2="303.4" stroke="#000" stroke-width="1.2" />
<line x1="455.94" y1="299.25" x2="459.54" y2="299.25" stroke="#000" stroke-width="1.2" />
<line x1="455.94" y1="303.4" x2="459.54" y2="303.4" stroke="#000" stroke-width="1.2" />
<line x1="312.87" y1="325.03" x2="312.87" y2="327.79" stroke="#000" stroke-width="1.2" />
<line x1="311.07" y1="325.03" x2="314.67" y2="325.03" stroke="#000" stroke-width="1.2" />
<line x1="311.07" y1="327.79" x2="314.67" y2="327.79" stroke="#000" stroke-width="1.2" />
<circle cx="312.87" cy="286.97" r="2.65" fill="#fff" stroke="#000" stroke-width="1.15"/>
<circle cx="326.04" cy="282.29" r="2.65" fill="#fff" stroke="#000" stroke-width="1.15"/>
<circle cx="352.38" cy="293.54" r="2.65" fill="#fff" stroke="#000" stroke-width="1.15"/>
<circle cx="378.72" cy="303.57" r="2.65" fill="#fff" stroke="#000" stroke-width="1.15"/>
<circle cx="405.06" cy="305.3" r="2.65" fill="#fff" stroke="#000" stroke-width="1.15"/>
<circle cx="431.4" cy="306.69" r="2.65" fill="#fff" stroke="#000" stroke-width="1.15"/>
<circle cx="457.74" cy="301.32" r="2.65" fill="#fff" stroke="#000" stroke-width="1.15"/>
<circle cx="510.42" cy="297.35" r="2.65" fill="#fff" stroke="#000" stroke-width="1.15"/>
<circle cx="312.87" cy="326.41" r="2.95" fill="#000"/>
<circle cx="326.04" cy="327.79" r="2.95" fill="#000"/>
<circle cx="352.38" cy="329.52" r="2.95" fill="#000"/>
<circle cx="378.72" cy="332.29" r="2.95" fill="#000"/>
<circle cx="405.06" cy="335.75" r="2.95" fill="#000"/>
<circle cx="431.4" cy="337.83" r="2.95" fill="#000"/>
<circle cx="457.74" cy="338.17" r="2.95" fill="#000"/>
<circle cx="510.42" cy="336.1" r="2.95" fill="#000"/>
<text x="316" y="320.84" font-size="14" font-weight="bold" text-anchor="middle">*</text>
<text x="328.1" y="322.34" font-size="14" font-weight="bold" text-anchor="middle">*</text>
<text x="354.1" y="323.94" font-size="14" font-weight="bold" text-anchor="middle">*</text>
<text x="381" y="326.34" font-size="14" font-weight="bold" text-anchor="middle">*</text>
<text x="406" y="329.44" font-size="14" font-weight="bold" text-anchor="middle">*</text>
<text x="432" y="332.44" font-size="14" font-weight="bold" text-anchor="middle">*</text>
<text x="458" y="332.44" font-size="14" font-weight="bold" text-anchor="middle">*</text>
<text x="510" y="330.74" font-size="14" font-weight="bold" text-anchor="middle">*</text>
<text transform="translate(280,334) rotate(-90)" font-size="10.5" font-weight="bold" textLength="40.3" lengthAdjust="spacingAndGlyphs">MGV (fl)</text>
</g>
<text x="104" y="387.8" font-size="10.9" textLength="84.6" lengthAdjust="spacingAndGlyphs" stroke="#000" stroke-width="0.35">Months after birth</text>
<text x="363" y="392.6" font-size="10.9" textLength="84.5" lengthAdjust="spacingAndGlyphs" stroke="#000" stroke-width="0.35">Months after birth</text>
</svg>
</body></html>
